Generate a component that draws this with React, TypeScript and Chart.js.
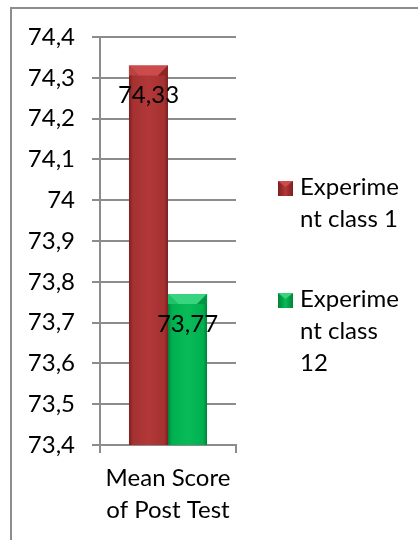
import React, { useEffect, useRef } from "react";
import { Chart, registerables } from "chart.js";

Chart.register(...registerables);

const categories: string[][] = [["Mean Score", "of Post Test"]];
const seriesNames: string[] = ["Experiment class 1", "Experiment class 12"];
const class1Values: number[] = [74.33];
const class12Values: number[] = [73.77];
const legendLines: string[][] = [
  ["Experime", "nt class 1"],
  ["Experime", "nt class", "12"],
];
const yMin = 73.4;
const yMax = 74.4;
const yStep = 0.1;

const FONT = "Lato, 'Open Sans', sans-serif";
const FS = 24;

const palettes = [
  { edge: "#7c1f1f", mid: "#a53131", light: "#b23838", top: "#cc4c4c", left: "#b94242", right: "#8e2626" },
  { edge: "#00833a", mid: "#00b050", light: "#08bb58", top: "#38d47e", left: "#1ec268", right: "#009544" },
];

const fmt = (v: number) => {
  const r = Math.round(v * 100) / 100;
  return String(r).replace(".", ",");
};

const decorPlugin = {
  id: "decor",
  afterDatasetsDraw(chart: any) {
    const ctx = chart.ctx;
    const area = chart.chartArea;
    chart.data.datasets.forEach((ds: any, di: number) => {
      const meta = chart.getDatasetMeta(di);
      const p = palettes[di];
      meta.data.forEach((el: any) => {
        const { x, y, base, width } = el.getProps(["x", "y", "base", "width"], true);
        const l = x - width / 2;
        const r = x + width / 2;
        const bottom = Math.min(base, area.bottom);
        const h = bottom - y;
        ctx.save();
        const g = ctx.createLinearGradient(l, 0, r, 0);
        g.addColorStop(0, p.edge);
        g.addColorStop(0.1, p.mid);
        g.addColorStop(0.5, p.light);
        g.addColorStop(0.9, p.mid);
        g.addColorStop(1, p.edge);
        ctx.fillStyle = g;
        ctx.fillRect(l, y, width, h);
        const b = Math.min(10, h / 2);
        ctx.fillStyle = p.top;
        ctx.beginPath();
        ctx.moveTo(l, y);
        ctx.lineTo(r, y);
        ctx.lineTo(r - b, y + b);
        ctx.lineTo(l + b, y + b);
        ctx.closePath();
        ctx.fill();
        ctx.fillStyle = p.left;
        ctx.beginPath();
        ctx.moveTo(l, y);
        ctx.lineTo(l + b, y + b);
        ctx.lineTo(l, y + b);
        ctx.closePath();
        ctx.fill();
        ctx.fillStyle = p.right;
        ctx.beginPath();
        ctx.moveTo(r, y);
        ctx.lineTo(r - b, y + b);
        ctx.lineTo(r, y + b);
        ctx.closePath();
        ctx.fill();
        ctx.restore();
      });
    });
    chart.data.datasets.forEach((ds: any, di: number) => {
      const meta = chart.getDatasetMeta(di);
      meta.data.forEach((el: any, i: number) => {
        ctx.save();
        ctx.font = `${FS}px ${FONT}`;
        ctx.fillStyle = "#000";
        ctx.textAlign = "center";
        ctx.textBaseline = "middle";
        ctx.fillText(fmt(ds.data[i]), el.x, el.y + 30);
        ctx.restore();
      });
    });
  },
  afterDraw(chart: any) {
    const ctx = chart.ctx;
    const area = chart.chartArea;
    const lx = area.right + 42;
    const tops = [181, 293];
    ctx.save();
    chart.data.datasets.forEach((ds: any, di: number) => {
      const p = palettes[di];
      const sy = tops[di];
      const s = 15;
      const g = ctx.createLinearGradient(lx, 0, lx + s, 0);
      g.addColorStop(0, p.edge);
      g.addColorStop(0.5, p.light);
      g.addColorStop(1, p.edge);
      ctx.fillStyle = g;
      ctx.fillRect(lx, sy, s, s);
      ctx.fillStyle = p.top;
      ctx.beginPath();
      ctx.moveTo(lx, sy);
      ctx.lineTo(lx + s, sy);
      ctx.lineTo(lx + s / 2, sy + 6);
      ctx.closePath();
      ctx.fill();
      ctx.font = `${FS}px ${FONT}`;
      ctx.fillStyle = "#000";
      ctx.textAlign = "left";
      ctx.textBaseline = "alphabetic";
      legendLines[di].forEach((line, li) => {
        ctx.fillText(line, lx + 22, sy + 14 + li * 32);
      });
    });
    ctx.restore();
  },
};

export default function App() {
  const ref = useRef<HTMLCanvasElement | null>(null);
  useEffect(() => {
    if (!ref.current) return;
    const chart = new Chart(ref.current, {
      type: "bar",
      data: {
        labels: categories,
        datasets: [
          { label: seriesNames[0], data: class1Values, backgroundColor: "rgba(0,0,0,0)" },
          { label: seriesNames[1], data: class12Values, backgroundColor: "rgba(0,0,0,0)" },
        ],
      },
      options: {
        responsive: false,
        animation: false,
        layout: { padding: { left: 0, top: 37, right: 182, bottom: 0 } },
        plugins: { legend: { display: false }, tooltip: { enabled: false } },
        datasets: { bar: { categoryPercentage: 0.574, barPercentage: 1 } },
        scales: {
          x: {
            afterFit: (s: any) => { s.height = 95; },
            grid: { display: true, drawOnChartArea: false, drawTicks: true, tickLength: 8, color: "#8c8c8c", lineWidth: 2, offset: true },
            border: { display: true, color: "#8c8c8c", width: 2 },
            ticks: { color: "#000", font: { family: FONT, size: FS, lineHeight: 32 / FS }, padding: 9 },
          },
          y: {
            min: yMin,
            max: yMax,
            afterFit: (s: any) => { s.width = 100; },
            grid: { color: "#8c8c8c", lineWidth: 2, tickLength: 8 },
            border: { display: true, color: "#8c8c8c", width: 2 },
            ticks: {
              stepSize: yStep,
              color: "#000",
              padding: 17,
              font: { family: FONT, size: FS },
              callback: (v: any) => String(Math.round(Number(v) * 10) / 10).replace(".", ","),
            },
          },
        },
      },
      plugins: [decorPlugin],
    });
    return () => chart.destroy();
  }, []);
  return (
    <div style={{ position: "fixed", left: 0, top: 0, width: 418, height: 540, background: "#fff" }}>
      <div
        style={{
          position: "absolute",
          left: 10,
          top: 7,
          right: 0,
          bottom: 0,
          borderTop: "2px solid #8d8d8d",
          borderLeft: "2px solid #8d8d8d",
        }}
      />
      <canvas ref={ref} width={418} height={540} style={{ position: "absolute", left: 0, top: 0 }} />
    </div>
  );
}
